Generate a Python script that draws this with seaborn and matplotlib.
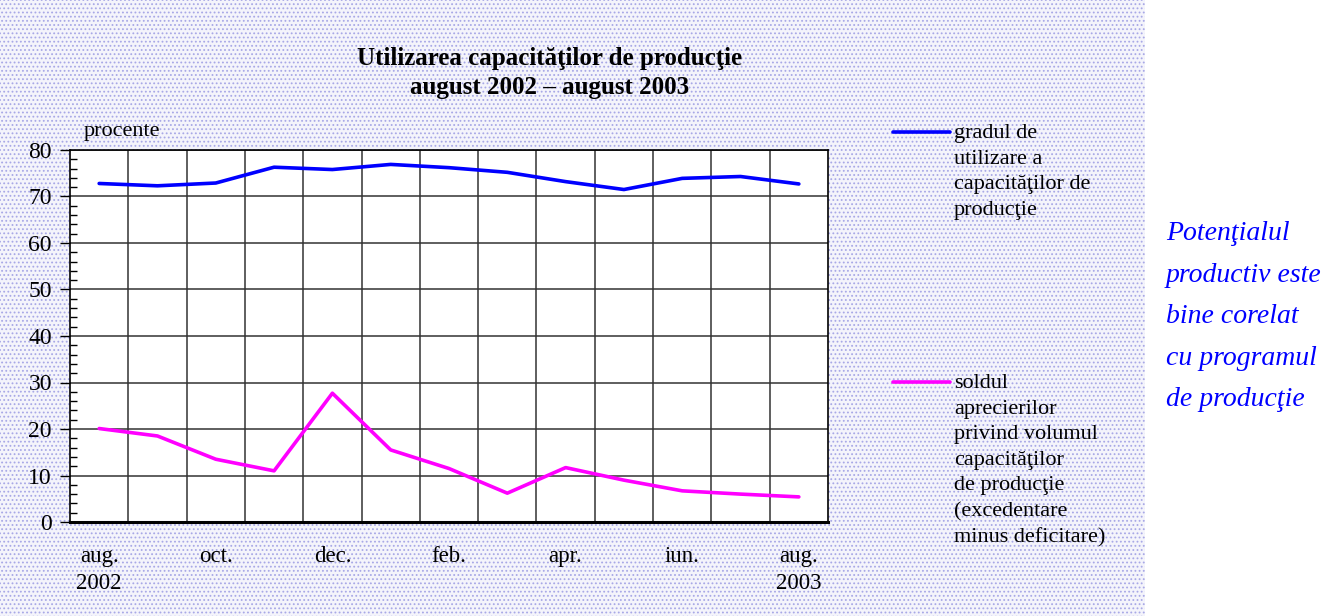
import numpy as np
import pandas as pd
import matplotlib
matplotlib.use('Agg')
import matplotlib.pyplot as plt
import seaborn as sns
from matplotlib.patches import Rectangle
from matplotlib.lines import Line2D

# date: august 2002 - august 2003, procente
luni = ['aug.', 'sep.', 'oct.', 'nov.', 'dec.', 'ian.', 'feb.',
        'mar.', 'apr.', 'mai', 'iun.', 'iul.', 'aug.']
gradul_utilizare = [72.8, 72.3, 72.9, 76.3, 75.8, 76.9, 76.2,
                    75.2, 73.2, 71.5, 73.9, 74.3, 72.7]
soldul_aprecieri = [20.1, 18.5, 13.5, 11.0, 27.7, 15.5, 11.5,
                    6.2, 11.7, 9.0, 6.7, 6.0, 5.4]
etichete_x = ['aug.\n2002', 'oct.', 'dec.', 'feb.', 'apr.', 'iun.', 'aug.\n2003']

df = pd.DataFrame({'idx': np.arange(len(luni)), 'luna': luni,
                   'gradul': gradul_utilizare, 'soldul': soldul_aprecieri})

sns.set_style('white')
plt.rcParams['font.family'] = ['Liberation Serif', 'DejaVu Serif']
plt.rcParams['text.color'] = 'black'
plt.rcParams['xtick.color'] = 'black'
plt.rcParams['ytick.color'] = 'black'
plt.rcParams['hatch.linewidth'] = 0.8

W, H = 1332, 616
fig = plt.figure(figsize=(W / 100, H / 100), dpi=100)
fig.patch.set_facecolor('white')

# fundal punctat
fig.patches.append(Rectangle((0, 0), 1145 / W, 1, transform=fig.transFigure,
                             facecolor='#f4f4fb', edgecolor='#a8a8e6', hatch='....',
                             linewidth=0, zorder=-5))

ax = fig.add_axes([70 / W, 94 / H, 758 / W, 372 / H])
ax.set_facecolor('white')

sns.lineplot(data=df, x='idx', y='gradul', color='#0000ff', lw=2.6, ax=ax, legend=False)
sns.lineplot(data=df, x='idx', y='soldul', color='#ff00ff', lw=2.6, ax=ax, legend=False)

ax.set_xlim(-0.5, 12.5)
ax.set_ylim(0, 80)
ax.set_xlabel('')
ax.set_ylabel('')

ax.set_xticks(np.arange(0, 13, 2))
ax.set_xticklabels(etichete_x, fontsize=16.5, linespacing=1.38)
ax.set_xticks(np.arange(0.5, 12.5, 1), minor=True)
ax.tick_params(axis='x', which='both', length=0, pad=17)

ax.set_yticks(np.arange(0, 81, 10))
ax.set_yticks(np.arange(0, 81, 2), minor=True)
ax.tick_params(axis='y', which='major', direction='out', length=7, width=1,
               labelsize=17, pad=6, left=True)
ax.tick_params(axis='y', which='minor', direction='in', length=5, width=1, left=True)

ax.grid(False)
ax.xaxis.grid(True, which='minor', color='#333333', lw=1.1)
ax.yaxis.grid(True, which='major', color='#333333', lw=1.1)
ax.set_axisbelow(True)
for s in ax.spines.values():
    s.set_color('black')
    s.set_linewidth(1.2)
ax.spines['bottom'].set_linewidth(2.2)

ax.text(14 / 758, 1.025, 'procente', transform=ax.transAxes, fontsize=16,
        ha='left', va='bottom')

fig.text(550 / W, 1 - 73 / H,
         'Utilizarea capacităţilor de producţie\naugust 2002 – august 2003',
         ha='center', va='center', fontsize=18, fontweight='bold', linespacing=1.3)

# legenda
leg_items = [
    (132, '#0000ff', 'gradul de\nutilizare a\ncapacităţilor de\nproducţie'),
    (382, '#ff00ff', 'soldul\naprecierilor\nprivind volumul\ncapacităţilor\nde producţie\n(excedentare\nminus deficitare)'),
]
for y, c, txt in leg_items:
    fig.add_artist(Line2D([893 / W, 950 / W], [1 - y / H, 1 - y / H],
                          transform=fig.transFigure, color=c, lw=2.6))
    fig.text(954 / W, 1 - (y - 8) / H, txt, ha='left', va='top',
             fontsize=16, linespacing=1.47)

fig.text(1166 / W, 1 - 221 / H,
         'Potenţialul\nproductiv este\nbine corelat\ncu programul\nde producţie',
         ha='left', va='top', fontsize=20, style='italic', color='#0000ff',
         linespacing=1.87)

fig.savefig('out.png', dpi=100)
